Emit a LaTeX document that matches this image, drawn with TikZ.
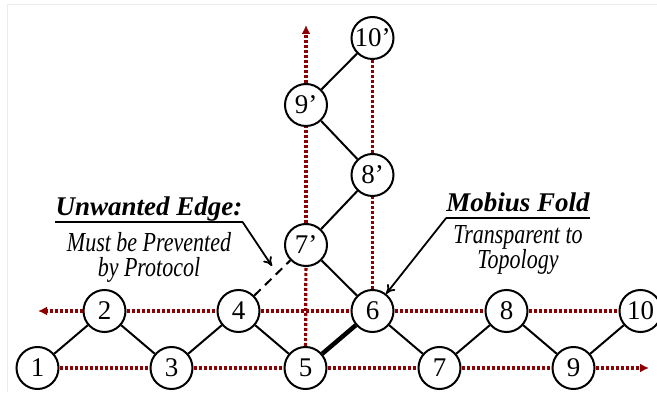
\documentclass[tikz,border=0pt]{standalone}
\usepackage{fontspec}
\setmainfont{Liberation Serif}
\usetikzlibrary{arrows.meta,positioning}

\definecolor{ringred}{RGB}{139,0,0}
\tikzstyle{switch}=[draw, circle, line width=2pt, fill=white, minimum size=42pt, inner sep=0pt, font=\fontsize{27}{27}\selectfont]
\tikzstyle{link}=[line width=2pt]
\tikzstyle{ring}=[ringred, line width=3.2pt, dash pattern=on 3pt off 2pt]
\tikzstyle{ringend}=[ring, -{Latex[length=9pt,width=9pt]}]
\tikzstyle{pointer}=[-{To[length=9pt,width=10pt]}, line width=1.8pt]
\tikzstyle{headline}=[inner sep=0pt, font=\fontsize{27}{27}\selectfont\bfseries\itshape]
\tikzstyle{note}=[inner sep=0pt, align=center, yscale=1.25, transform shape, font=\fontsize{22}{20}\selectfont\itshape]

\begin{document}
\begin{tikzpicture}[x=1pt, y=-1pt]
      \useasboundingbox (0,0) rectangle (657,395);
      \draw[gray!15, line width=1pt] (7.5,392) -- (7.5,5) -- (657,5);
      % base ring
      \foreach \i in {1,3,5,7,9} {%
        \node[switch] (n\i) at ({37.5+67*(\i-1)}, 368) {\i};
      }
      \foreach \i in {2,4,6,8,10} {%
        \node[switch] (n\i) at ({37.5+67*(\i-1)}, 311) {\i};
      }
      % folded part
      \node[switch] (m7) at (306, 245) {7’};
      \node[switch] (m8) at (372.5, 175) {8’};
      \node[switch] (m9) at (306, 105) {9’};
      \node[switch] (m10) at (372.5, 38) {10’};
      \coordinate (leftend) at (38, 311);
      \coordinate (rightend) at (649, 368);
      \coordinate (topend) at (306, 25);
      % dotted rings
      \draw[ring] (n1) -- (n3);
      \draw[ring] (n3) -- (n5);
      \draw[ring] (n5) -- (n7);
      \draw[ring] (n7) -- (n9);
      \draw[ringend] (n9) -- (rightend);
      \draw[ringend] (n2) -- (leftend);
      \draw[ring] (n2) -- (n4);
      \draw[ring] (n4) -- (n6);
      \draw[ring] (n6) -- (n8);
      \draw[ring] (n8) -- (n10);
      \draw[ring] (n5) -- (m7);
      \draw[ring] (m7) -- (m9);
      \draw[ringend] (m9) -- (topend);
      \draw[ring] (n6) -- (m8);
      \draw[ring] (m8) -- (m10);
      % links
      \foreach \a/\b in {1/2, 2/3, 3/4, 4/5, 6/7, 7/8, 8/9, 9/10} {%
        \draw[link] (n\a) -- (n\b);
      }
      \draw[line width=4.5pt] (n5) -- (n6);
      \draw[link] (n6) -- (m7);
      \draw[link] (m7) -- (m8);
      \draw[link] (m8) -- (m9);
      \draw[link] (m9) -- (m10);
      \draw[link, dash pattern=on 9pt off 6pt] (n4) -- (m7);
      % labels
      \node[headline, anchor=base] (unwanted) at (149, 216) {Unwanted Edge:};
      \node[note, below=10pt of unwanted] (unwantednote) {Must be Prevented\\by Protocol};
      \draw[line width=2.5pt] ([yshift=-6pt]unwanted.base west) -- ([yshift=-6pt]unwanted.base east);
      \coordinate (unwantedtip) at (272, 266);
      \draw[pointer] ([yshift=-6pt]unwanted.base east) -- (unwantedtip);
      \node[headline, anchor=base] (mobius) at (518, 212) {Mobius Fold};
      \node[note, below=13pt of mobius] (mobiusnote) {Transparent to\\Topology};
      \draw[line width=2.5pt] ([yshift=-6pt]mobius.base west) -- ([yshift=-6pt]mobius.base east);
      \draw[pointer] ([yshift=-6pt]mobius.base west) -- (n6);
    \end{tikzpicture}
\end{document}
